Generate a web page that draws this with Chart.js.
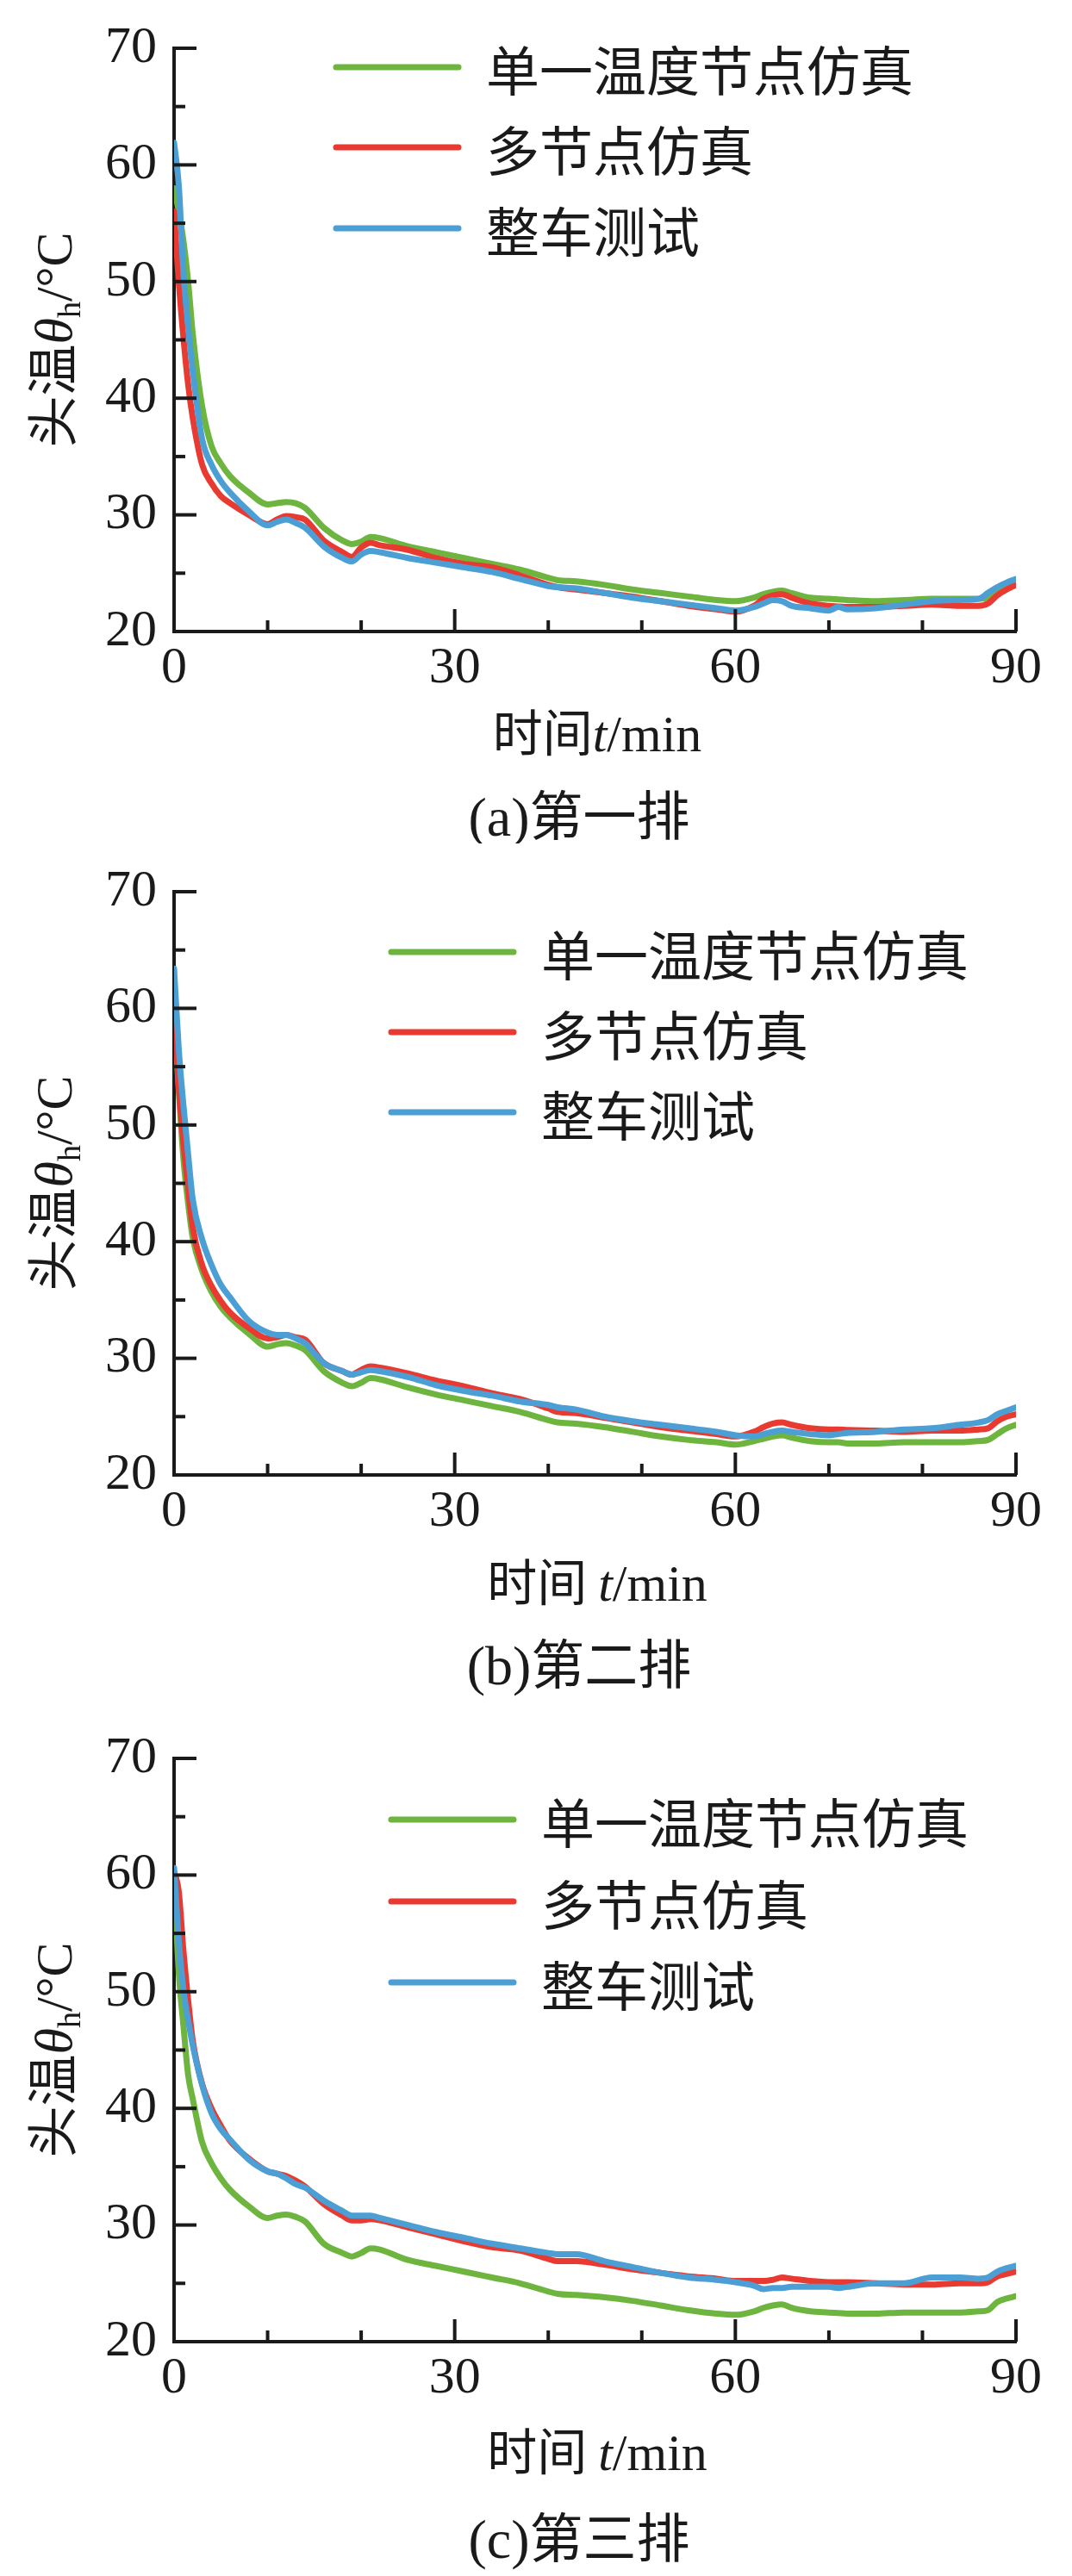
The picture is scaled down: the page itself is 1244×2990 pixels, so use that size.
<!DOCTYPE html>
<html>
<head>
<meta charset="utf-8">
<script src="https://cdn.jsdelivr.net/npm/chart.js@4.4.1/dist/chart.umd.min.js"></script>
<style>
  html, body { margin: 0; padding: 0; background: #fff; }
  #wrap { position: relative; width: 1244px; height: 2990px; }
  canvas { position: absolute; left: 0; }
</style>
</head>
<body>
<div id="wrap">
  <canvas id="c1" width="1244" height="979" style="top:0px"></canvas>
  <canvas id="c2" width="1244" height="1006" style="top:979px"></canvas>
  <canvas id="c3" width="1244" height="1005" style="top:1985px"></canvas>
</div>
<script>
// time axis (min), shared by all three panels
const times = [0, 0.5, 1, 1.5, 2, 3, 4, 5, 6, 8, 10, 11, 12, 13, 14, 16, 18, 19, 20, 21,
  22, 25, 28, 31, 34, 37, 40, 41, 43, 46, 49, 52, 55, 58, 60, 62, 63, 64, 65, 66,
  68, 70, 71, 72, 75, 78, 81, 84, 86, 87, 88, 89, 90];

const seriesLabels = ['单一温度节点仿真', '多节点仿真', '整车测试'];
const seriesColors = ['#6db53e', '#e83a30', '#4b9fd4'];

const xTicks = [0, 30, 60, 90];
const yTicks = [20, 30, 40, 50, 60, 70];

// (a) 第一排
const row1Single = [58, 56, 53.5, 50, 45.5, 39.3, 35.9, 34.4, 33.3, 31.9, 30.9, 31.0, 31.1, 31.0, 30.6, 28.9, 27.8, 27.5, 27.7, 28.1,
  28.0, 27.3, 26.8, 26.3, 25.8, 25.3, 24.6, 24.4, 24.3, 24.0, 23.6, 23.3, 23.0, 22.7, 22.6, 22.9, 23.2, 23.4, 23.5, 23.3,
  22.9, 22.8, 22.75, 22.7, 22.6, 22.7, 22.8, 22.8, 22.8, 22.9, 23.3, 23.8, 24.2];
const row1Multi = [56, 50, 45.2, 41.2, 38.3, 34.3, 32.7, 31.6, 31.0, 30.0, 29.2, 29.6, 29.9, 29.8, 29.6, 27.8, 26.8, 26.4, 27.2, 27.6,
  27.4, 27.0, 26.3, 25.8, 25.5, 24.8, 24.0, 23.8, 23.6, 23.3, 23.0, 22.6, 22.2, 21.9, 21.7, 22.2, 22.8, 23.1, 23.2, 22.9,
  22.4, 22.2, 22.15, 22.1, 22.1, 22.2, 22.3, 22.2, 22.2, 22.4, 23.1, 23.6, 24.0];
const row1Test = [61.9, 58.3, 50.8, 46.2, 42.3, 36.5, 34.3, 32.9, 31.9, 30.3, 29.1, 29.4, 29.6, 29.3, 28.9, 27.3, 26.3, 26.0, 26.6, 26.9,
  26.8, 26.3, 25.9, 25.5, 25.1, 24.5, 23.9, 23.8, 23.7, 23.3, 22.9, 22.6, 22.3, 22.0, 21.8, 22.1, 22.4, 22.7, 22.6, 22.2,
  22.0, 21.8, 22.1, 21.9, 22.0, 22.3, 22.6, 22.7, 22.8, 23.3, 23.8, 24.2, 24.5];

// (b) 第二排
const row2Single = [60.0, 53.0, 47.1, 43.3, 40.3, 37.5, 35.7, 34.4, 33.5, 32.1, 31.0, 31.2, 31.3, 31.1, 30.7, 28.9, 27.9, 27.6, 27.9, 28.3,
  28.2, 27.5, 26.9, 26.4, 25.9, 25.4, 24.7, 24.5, 24.4, 24.1, 23.7, 23.3, 23.0, 22.8, 22.6, 22.9, 23.1, 23.3, 23.4, 23.2,
  22.9, 22.8, 22.8, 22.7, 22.7, 22.8, 22.8, 22.8, 22.9, 23.0, 23.5, 24.0, 24.3];
const row2Multi = [60.5, 53.3, 48.5, 44.6, 41.2, 38.0, 36.2, 34.9, 33.9, 32.6, 31.7, 31.8, 32.0, 31.8, 31.6, 29.6, 28.9, 28.6, 29.0, 29.3,
  29.2, 28.7, 28.1, 27.6, 27.0, 26.5, 25.7, 25.4, 25.3, 24.9, 24.5, 24.1, 23.8, 23.5, 23.3, 23.7, 24.1, 24.4, 24.5, 24.3,
  24.0, 23.9, 23.9, 23.85, 23.8, 23.7, 23.8, 23.8, 23.9, 24.0, 24.6, 25.0, 25.2];
const row2Test = [63.4, 56.5, 51.7, 47.5, 43.6, 40.2, 38.0, 36.3, 35.2, 33.2, 32.2, 32.0, 32.0, 31.7, 31.3, 29.6, 28.9, 28.6, 28.8, 29.0,
  28.9, 28.4, 27.7, 27.2, 26.8, 26.3, 26.0, 25.8, 25.6, 25.0, 24.6, 24.3, 24.0, 23.7, 23.4, 23.3, 23.5, 23.7, 23.8, 23.7,
  23.5, 23.4, 23.5, 23.6, 23.7, 23.9, 24.0, 24.3, 24.5, 24.7, 25.2, 25.5, 25.8];

// (c) 第三排
const row3Single = [59.8, 51.7, 47.1, 42.9, 40.8, 37.1, 35.3, 34.0, 33.0, 31.6, 30.6, 30.8, 30.9, 30.7, 30.3, 28.4, 27.6, 27.3, 27.6, 28.0,
  27.9, 27.0, 26.5, 26.0, 25.5, 25.0, 24.3, 24.1, 24.0, 23.8, 23.5, 23.1, 22.7, 22.4, 22.3, 22.6, 22.9, 23.1, 23.2, 22.9,
  22.6, 22.5, 22.45, 22.4, 22.4, 22.5, 22.5, 22.5, 22.6, 22.7, 23.4, 23.7, 23.9];
const row3Multi = [60.3, 58.6, 53.5, 49.3, 45.8, 42.1, 40.0, 38.5, 37.2, 35.7, 34.6, 34.4, 34.2, 33.8, 33.3, 31.8, 30.8, 30.4, 30.4, 30.5,
  30.4, 29.8, 29.2, 28.6, 28.1, 27.8, 27.1, 26.9, 26.9, 26.6, 26.2, 25.9, 25.6, 25.4, 25.2, 25.2, 25.2, 25.3, 25.5, 25.4,
  25.2, 25.1, 25.1, 25.1, 25.0, 24.9, 24.9, 25.0, 25.0, 25.1, 25.6, 25.8, 26.0];
const row3Test = [60.6, 54.4, 50.2, 47.6, 45.4, 42.0, 39.6, 38.2, 37.3, 35.6, 34.6, 34.4, 34.0, 33.5, 33.2, 32.1, 31.2, 30.8, 30.8, 30.8,
  30.6, 30.0, 29.4, 28.9, 28.4, 28.0, 27.6, 27.5, 27.5, 26.9, 26.4, 25.9, 25.5, 25.3, 25.1, 24.8, 24.5, 24.6, 24.6, 24.7,
  24.7, 24.7, 24.6, 24.7, 25.0, 25.0, 25.5, 25.5, 25.4, 25.5, 26.0, 26.3, 26.5];

const CJK = '"Noto Sans CJK SC"';
const SERIF = '"Liberation Serif"';
const INK = '#1a1a1a';

// draws a row of text pieces with mixed fonts, centred on cx
function drawParts(ctx, parts, cx, baseY) {
  let total = 0;
  parts.forEach(p => { ctx.font = p.font; p.w = ctx.measureText(p.text).width; total += p.w; });
  let x = cx - total / 2;
  parts.forEach(p => {
    ctx.font = p.font;
    ctx.fillText(p.text, x, baseY + (p.dy || 0));
    x += p.w;
  });
}

function makeDecor(cfg) {
  return {
    id: 'decor',
    afterDraw(chart) {
      const { ctx, chartArea: a, scales: { x, y } } = chart;
      ctx.save();

      // inward tick marks
      ctx.strokeStyle = INK;
      ctx.lineWidth = 4;
      for (let v = y.min; v <= y.max; v += 5) {
        const py = y.getPixelForValue(v);
        const len = v % 10 === 0 ? 26 : 13;
        ctx.beginPath();
        ctx.moveTo(a.left, py);
        ctx.lineTo(a.left + len, py);
        ctx.stroke();
      }
      for (let v = x.min + 10; v <= x.max; v += 10) {
        const px = x.getPixelForValue(v);
        const len = v % 30 === 0 ? 26 : 13;
        ctx.beginPath();
        ctx.moveTo(px, a.bottom);
        ctx.lineTo(px, a.bottom - len);
        ctx.stroke();
      }

      // legend
      ctx.lineCap = 'round';
      ctx.lineWidth = 7;
      ctx.textBaseline = 'middle';
      ctx.textAlign = 'left';
      ctx.fillStyle = INK;
      ctx.font = '62px ' + CJK;
      chart.data.datasets.forEach((ds, i) => {
        const ry = cfg.rows[i];
        ctx.strokeStyle = ds.borderColor;
        ctx.beginPath();
        ctx.moveTo(cfg.legendX, ry);
        ctx.lineTo(cfg.legendX + 142, ry);
        ctx.stroke();
        ctx.fillText(ds.label, cfg.legendX + 174, ry + 4);
      });

      // x axis title
      ctx.textBaseline = 'alphabetic';
      const xParts = [{ text: '时间' + (cfg.gap ? ' ' : ''), font: '58px ' + CJK },
        { text: 't', font: 'italic 60px ' + SERIF },
        { text: '/min', font: '60px ' + SERIF }];
      drawParts(ctx, xParts, 693, a.bottom + cfg.titleOff + 21);

      // caption
      const capParts = [{ text: '(' + cfg.tag + ')', font: '64px ' + SERIF },
        { text: cfg.caption, font: '62px ' + CJK }];
      drawParts(ctx, capParts, 672, a.bottom + cfg.capOff + 22);

      // y axis title, rotated
      ctx.translate(62, (a.top + a.bottom) / 2);
      ctx.rotate(-Math.PI / 2);
      const yParts = [{ text: '头温', font: '60px ' + CJK },
        { text: 'θ', font: 'italic 62px ' + SERIF },
        { text: 'h', font: '38px ' + SERIF, dy: 10 },
        { text: '/°C', font: '60px ' + SERIF }];
      drawParts(ctx, yParts, 0, 21);

      ctx.restore();
    }
  };
}

function makeChart(id, series, cfg) {
  const canvas = document.getElementById(id);
  const H = canvas.height;
  new Chart(canvas, {
    type: 'line',
    data: {
      datasets: series.map((s, i) => ({
        label: seriesLabels[i],
        data: times.map((t, k) => ({ x: t, y: s[k] })),
        borderColor: seriesColors[i],
        borderWidth: 7,
        pointRadius: 0,
        fill: false,
        cubicInterpolationMode: 'monotone',
        borderJoinStyle: 'round',
        borderCapStyle: 'round',
        order: 2 - i
      }))
    },
    options: {
      responsive: false,
      animation: false,
      devicePixelRatio: 1,
      layout: { padding: { left: 0, right: 65, top: 33, bottom: 0 } },
      plugins: { legend: { display: false }, tooltip: { enabled: false } },
      scales: {
        x: {
          type: 'linear', min: 0, max: 90,
          afterBuildTicks: s => { s.ticks = xTicks.map(v => ({ value: v })); },
          afterFit: s => { s.height = H - 733; },
          grid: { display: false, drawTicks: false },
          border: { display: true, color: INK, width: 4 },
          ticks: { padding: 7, color: INK, font: { family: 'Liberation Serif', size: 60 } }
        },
        y: {
          min: 20, max: 70,
          afterBuildTicks: s => { s.ticks = yTicks.map(v => ({ value: v })); },
          afterFit: s => { s.width = 202; },
          grid: { display: false, drawTicks: false },
          border: { display: true, color: INK, width: 4 },
          ticks: { padding: 20, color: INK, font: { family: 'Liberation Serif', size: 60 } }
        }
      }
    },
    plugins: [makeDecor(cfg)]
  });
}

makeChart('c1', [row1Single, row1Multi, row1Test],
  { legendX: 390, rows: [78, 171, 265], tag: 'a', caption: '第一排', gap: false, titleOff: 118, capOff: 215 });
makeChart('c2', [row2Single, row2Multi, row2Test],
  { legendX: 454, rows: [126, 219, 312], tag: 'b', caption: '第二排', gap: true, titleOff: 125, capOff: 221 });
makeChart('c3', [row3Single, row3Multi, row3Test],
  { legendX: 454, rows: [127, 222, 316], tag: 'c', caption: '第三排', gap: true, titleOff: 128, capOff: 229 });
</script>
</body>
</html>
